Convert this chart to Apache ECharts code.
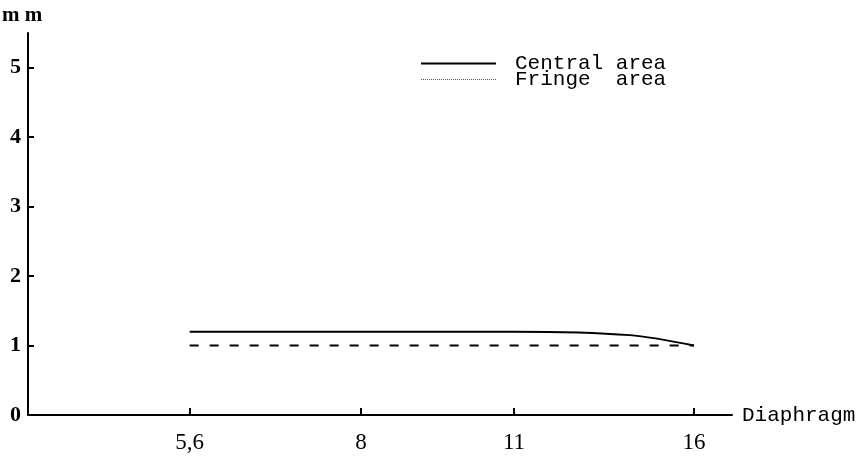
<!DOCTYPE html>
<html>
<head>
<meta charset="utf-8">
<script src="https://cdn.jsdelivr.net/npm/echarts@6/dist/echarts.min.js"></script>
<style>
  html, body { margin: 0; padding: 0; background: #fff; }
  #chart { width: 866px; height: 458px; }
</style>
</head>
<body>
<div id="chart"></div>
<script>
// f-stops on the x axis (drawn on a log2 scale, one stop = one step)
const fStops = [5.6, 8, 11, 16];
const fLabels = ['5,6', '8', '11', '16'];

// Central area: sampled along the curve
const centralF = [5.6, 8, 11, 14, 16];
const centralMm = [1.2, 1.2, 1.2, 1.15, 1.0];

// Fringe area
const fringeF = [5.6, 8, 11, 16];
const fringeMm = [1.0, 1.0, 1.0, 1.0];

const yTicks = [0, 1, 2, 3, 4, 5];

const chart = echarts.init(document.getElementById('chart'), null, { renderer: 'canvas' });

const serif = 'Liberation Serif';
const mono = 'Liberation Mono';

const toPoints = (fs, vs) => fs.map((f, i) => [Math.log2(f), vs[i]]);

const option = {
    backgroundColor: '#fff',
    animation: false,
    grid: { left: 28, right: 134, top: 33, bottom: 43, outerBoundsMode: 'none' },
    legend: {
        orient: 'vertical',
        left: 415,
        top: 48,
        itemWidth: 75,
        itemHeight: 14,
        itemGap: -5,
        itemStyle: { opacity: 0 },
        textStyle: { fontFamily: mono, fontSize: 21, color: '#000', padding: [0, 0, 0, 14] },
        data: [
            { name: 'Central area' },
            { name: 'Fringe  area', lineStyle: { type: 'dotted', width: 1, color: '#555' } }
        ]
    },
    xAxis: {
        type: 'value',
        min: 2.0,
        max: 4.114,
        name: 'Diaphragm',
        nameLocation: 'end',
        nameGap: 10,
        nameTextStyle: { fontFamily: mono, fontSize: 21, color: '#000', verticalAlign: 'middle' },
        splitLine: { show: false },
        axisLine: { lineStyle: { color: '#000', width: 2 } },
        axisTick: {
            inside: true, length: 7, lineStyle: { color: '#000', width: 2 },
            customValues: fStops.map(Math.log2)
        },
        axisLabel: {
            margin: 16,
            fontFamily: serif, fontSize: 23, color: '#000',
            customValues: fStops.map(Math.log2),
            formatter: v => {
                const i = fStops.findIndex(f => Math.abs(Math.log2(f) - v) < 1e-6);
                return i >= 0 ? fLabels[i] : '';
            }
        }
    },
    yAxis: {
        type: 'value',
        min: 0,
        max: 5.5,
        interval: 1,
        name: 'm m',
        nameLocation: 'end',
        nameGap: 7,
        nameTextStyle: { fontFamily: serif, fontSize: 21, fontWeight: 'bold', color: '#000', align: 'center', padding: [0, 12, 0, 0] },
        splitLine: { show: false },
        axisLine: { show: true, lineStyle: { color: '#000', width: 2 } },
        axisTick: {
            show: true, inside: true, length: 6, lineStyle: { color: '#000', width: 2 },
            customValues: yTicks.slice(1)
        },
        axisLabel: {
            margin: 7,
            fontFamily: serif, fontSize: 22, fontWeight: 'bold', color: '#000',
            customValues: yTicks
        }
    },
    series: [
        {
            name: 'Central area',
            type: 'line',
            data: toPoints(centralF, centralMm),
            symbol: 'none',
            smooth: 0.3,
            itemStyle: { color: '#000' },
            lineStyle: { color: '#000', width: 2 }
        },
        {
            name: 'Fringe  area',
            type: 'line',
            data: toPoints(fringeF, fringeMm),
            symbol: 'none',
            itemStyle: { color: '#000' },
            lineStyle: { color: '#000', width: 2, type: [9, 11] }
        }
    ]
};

chart.setOption(option);
</script>
</body>
</html>
